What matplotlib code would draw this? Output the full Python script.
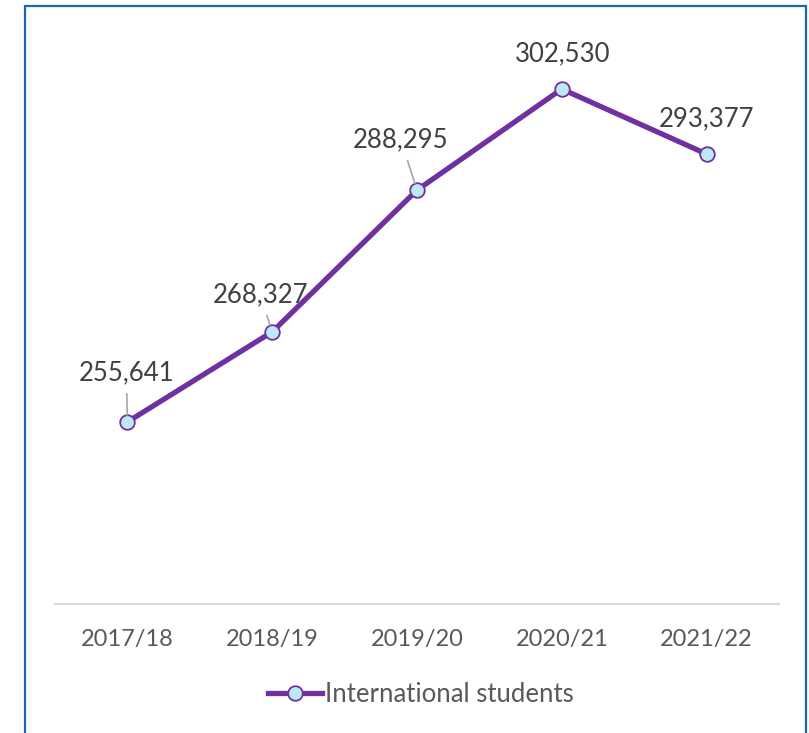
import matplotlib.pyplot as plt
from matplotlib.patches import Rectangle

years = ["2017/18", "2018/19", "2019/20", "2020/21", "2021/22"]
students = [255641, 268327, 288295, 302530, 293377]
# label offsets (pixels) and whether a leader line is drawn
label_dx = [-1, -12, -16, 1, 0]
label_dy = [49, 37, 50, 35, 35]
leader = [True, True, True, False, False]

plt.rcParams['font.family'] = ['Lato', 'DejaVu Sans']

fig = plt.figure(figsize=(8.09, 7.33), dpi=100)
ax = fig.add_axes([55 / 809, 129 / 733, 724 / 809, 568 / 733])

x = list(range(len(years)))
ax.plot(x, students, color='#7030A0', lw=3.8, marker='o', ms=10.5,
        markerfacecolor='#BDE9F4', markeredgecolor='#7030A0', mew=1.3,
        label='International students', zorder=3)

for i, v in enumerate(students):
    arrow = dict(arrowstyle='-', color='#A6A6A6', lw=1.2, shrinkA=4, shrinkB=5) if leader[i] else None
    ax.annotate(f"{v:,}", (i, v), xytext=(label_dx[i], label_dy[i]),
                textcoords='offset pixels', ha='center', va='center',
                fontsize=18.5, color='#404040', arrowprops=arrow)

ax.set_xlim(-0.5, 4.5)
ax.set_ylim(230000, 310000)
ax.set_xticks(x)
ax.set_xticklabels(years, fontsize=17, color='#595959')
ax.tick_params(axis='x', length=0, pad=18)
ax.set_yticks([])
for s in ['top', 'right', 'left']:
    ax.spines[s].set_visible(False)
ax.spines['bottom'].set_color('#D9D9D9')
ax.spines['bottom'].set_linewidth(1.5)

fig.legend(loc='center', bbox_to_anchor=(421 / 809, 39 / 733), frameon=False,
           fontsize=18.5, labelcolor='#595959', handlelength=2.1, handletextpad=0.1)

fig.patches.append(Rectangle((25 / 809, -0.05), 781 / 809, 0.05 + 727 / 733,
                             transform=fig.transFigure, fill=False,
                             edgecolor='#1F64B0', lw=1.6))

fig.savefig('out.png', dpi=100)
